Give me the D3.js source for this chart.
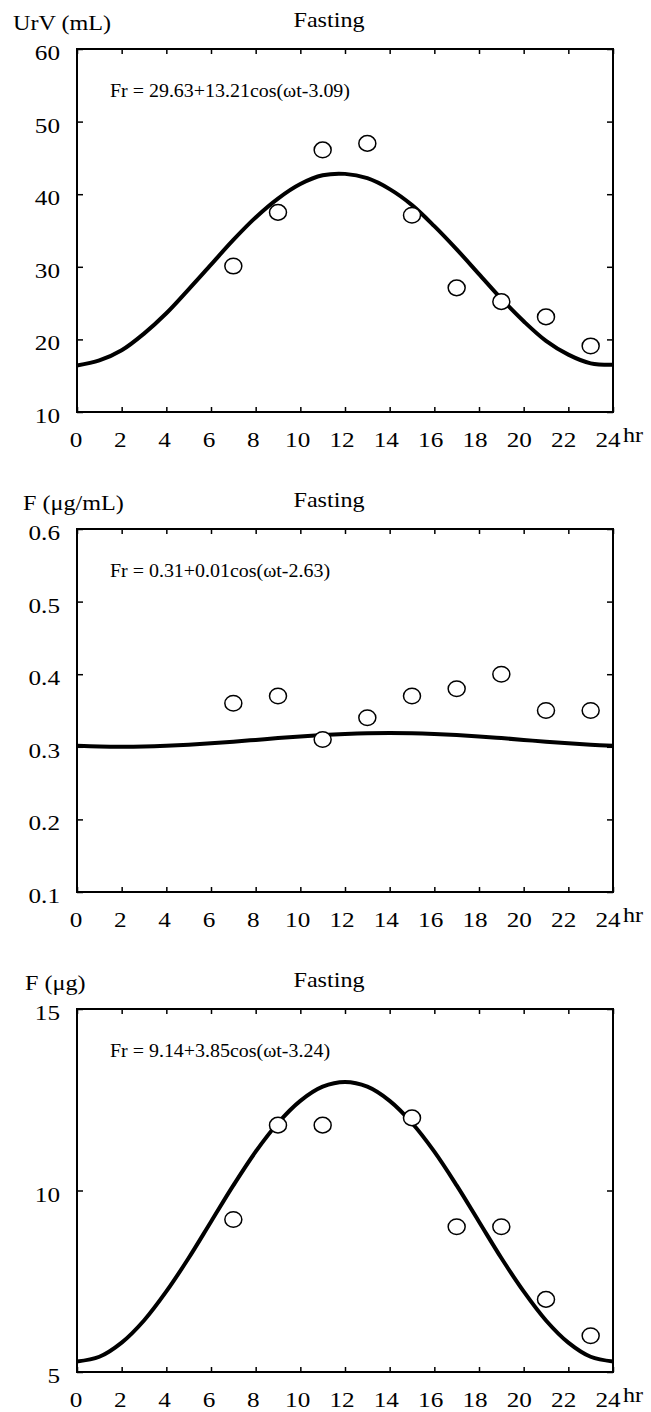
<!DOCTYPE html>
<html>
<head>
<meta charset="utf-8">
<script src="https://cdn.jsdelivr.net/npm/d3@7"></script>
<style>
body { margin: 0; background: #fff; }
text { font-family: "Liberation Serif", "Times New Roman", serif; fill: #000; }
</style>
</head>
<body>
<svg id="chart" width="651" height="1412"></svg>
<script>
// hours on the x axis
var tickX = [0, 2, 4, 6, 8, 10, 12, 14, 16, 18, 20, 22, 24];
var fitHours = [0,1,2,3,4,5,6,7,8,9,10,11,12,13,14,15,16,17,18,19,20,21,22,23,24];

// panel 1 : urine volume
var urvHours = [7, 9, 11, 13, 15, 17, 19, 21, 23];
var urvObs = [30.1, 37.5, 46.1, 47.0, 37.1, 27.1, 25.2, 23.1, 19.1];
var urvFit = [16.4, 17.1, 18.5, 20.8, 23.6, 26.9, 30.3, 33.7, 36.8, 39.4, 41.4, 42.6, 42.8,
              42.2, 40.7, 38.5, 35.6, 32.4, 29.0, 25.6, 22.5, 19.8, 17.9, 16.7, 16.5];
var urvTicks = [10, 20, 30, 40, 50, 60];

// panel 2 : fluoride concentration
var fcHours = [7, 9, 11, 13, 15, 17, 19, 21, 23];
var fcObs = [0.36, 0.37, 0.31, 0.34, 0.37, 0.38, 0.40, 0.35, 0.35];
var fcFit = [0.3013, 0.3003, 0.300, 0.3003, 0.3013, 0.3028, 0.3048, 0.3070, 0.3095, 0.3120,
             0.3143, 0.3162, 0.3177, 0.3187, 0.319, 0.3187, 0.3177, 0.3162, 0.3143, 0.3120,
             0.3095, 0.3070, 0.3048, 0.3028, 0.3013];
var fcTicks = [0.1, 0.2, 0.3, 0.4, 0.5, 0.6];

// panel 3 : fluoride amount
var faHours = [7, 9, 11, 15, 17, 19, 21, 23];
var faObs = [9.2, 11.8, 11.8, 12.0, 9.0, 9.0, 7.0, 6.0];
var faFit = [5.29, 5.42, 5.81, 6.42, 7.22, 8.14, 9.14, 10.14, 11.07, 11.86, 12.47, 12.86, 12.99,
             12.86, 12.47, 11.86, 11.07, 10.14, 9.14, 8.14, 7.22, 6.42, 5.81, 5.42, 5.29];
var faTicks = [5, 10, 15];

var panels = [
  {top: 49, ylab: "UrV (mL)", ylabX: 13, eq: "Fr = 29.63+13.21cos(\u03c9t-3.09)",
   dom: [10, 60], ticks: urvTicks, fmt: d3.format("d"), hx: urvHours, obs: urvObs, fit: urvFit},
  {top: 529, ylab: "F (\u03bcg/mL)", ylabX: 23, eq: "Fr = 0.31+0.01cos(\u03c9t-2.63)",
   dom: [0.1, 0.6], ticks: fcTicks, fmt: d3.format(".1f"), hx: fcHours, obs: fcObs, fit: fcFit},
  {top: 1009, ylab: "F (\u03bcg)", ylabX: 25, eq: "Fr = 9.14+3.85cos(\u03c9t-3.24)",
   dom: [5, 15], ticks: faTicks, fmt: d3.format("d"), hx: faHours, obs: faObs, fit: faFit}
];

var L = 77, R = 613, PH = 363;
var svg = d3.select("#chart");
var x = d3.scaleLinear().domain([0, 24]).range([L, R]);
// tick labels sit a touch left of the ticks in the original
var xl = d3.scaleLinear().domain([0, 24]).range([76, 608]);

function stretched(g, tx, ty, s, size, anchor, str) {
  return g.append("text")
    .attr("transform", "translate(" + tx + "," + ty + ") scale(" + s + ",1)")
    .attr("font-size", size)
    .attr("text-anchor", anchor)
    .text(str);
}

panels.forEach(function(p) {
  var g = svg.append("g");
  var top = p.top, bot = p.top + PH;
  var y = d3.scaleLinear().domain(p.dom).range([bot, top]);

  // ticks, all pointing in
  g.append("g").attr("transform", "translate(0," + bot + ")")
    .call(d3.axisBottom(x).tickValues(tickX).tickSizeInner(-5).tickSizeOuter(0).tickFormat(""));
  g.append("g").attr("transform", "translate(0," + top + ")")
    .call(d3.axisTop(x).tickValues(tickX).tickSizeInner(-5).tickSizeOuter(0).tickFormat(""));
  g.append("g").attr("transform", "translate(" + L + ",0)")
    .call(d3.axisLeft(y).tickValues(p.ticks).tickSizeInner(-6).tickSizeOuter(0).tickFormat(""));
  g.append("g").attr("transform", "translate(" + R + ",0)")
    .call(d3.axisRight(y).tickValues(p.ticks).tickSizeInner(-6).tickSizeOuter(0).tickFormat(""));
  g.selectAll(".domain").remove();
  g.selectAll(".tick line").attr("stroke", "#000").attr("stroke-width", 1.5);

  g.append("rect")
    .attr("x", L).attr("y", top).attr("width", R - L).attr("height", PH)
    .attr("fill", "none").attr("stroke", "#000").attr("stroke-width", 2);

  // x labels
  tickX.forEach(function(t) {
    stretched(g, xl(t), bot + 35, 1.2, 21, "middle", t);
  });
  stretched(g, 623, bot + 30, 1.15, 21, "start", "hr");

  // y labels
  p.ticks.forEach(function(v) {
    stretched(g, 60, y(v) + 11, 1.2, 21, "end", p.fmt(v));
  });

  stretched(g, p.ylabX, top - 19, 1.15, 21, "start", p.ylab);
  stretched(g, 329, top - 22, 1.15, 21, "middle", "Fasting");

  stretched(g, 110, top + 48, 1.05, 19, "start", p.eq);

  // fitted cosinor curve
  var line = d3.line()
    .x(function(d, i) { return x(fitHours[i]); })
    .y(function(d) { return y(d); })
    .curve(d3.curveCatmullRom);
  g.append("path").datum(p.fit)
    .attr("d", line)
    .attr("fill", "none").attr("stroke", "#000").attr("stroke-width", 4);

  // observed points
  g.selectAll(".pt").data(p.obs).enter().append("ellipse")
    .attr("class", "pt")
    .attr("cx", function(d, i) { return x(p.hx[i]); })
    .attr("cy", function(d) { return y(d); })
    .attr("rx", 8.5).attr("ry", 7.8)
    .attr("fill", "#fff").attr("stroke", "#000").attr("stroke-width", 1.5);
});
</script>
</body>
</html>
